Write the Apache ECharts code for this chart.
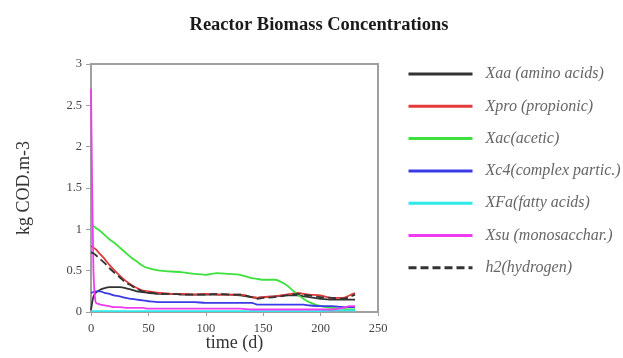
<!DOCTYPE html>
<html><head><meta charset="utf-8">
<script src="https://cdn.jsdelivr.net/npm/echarts@6/dist/echarts.min.js"></script>
<style>html,body{margin:0;padding:0;background:#fff}#c{width:623px;height:358px}</style>
</head><body><div id="c"></div>
<script>
const times = [0, 2, 4, 8, 12, 16, 20, 25, 30, 35, 40, 45, 50, 60, 70, 80, 90, 100, 110, 120, 130, 140, 145, 150, 160, 170, 175, 180, 185, 190, 200, 210, 220, 225, 230];
const xaa = [0.02,0.18,0.23,0.27,0.29,0.30,0.30,0.30,0.29,0.27,0.25,0.24,0.23,0.22,0.22,0.21,0.21,0.21,0.21,0.21,0.20,0.18,0.17,0.18,0.19,0.20,0.20,0.20,0.19,0.18,0.16,0.15,0.15,0.15,0.15];
const xpro = [0.80,0.78,0.76,0.70,0.64,0.57,0.51,0.44,0.38,0.33,0.29,0.26,0.25,0.23,0.22,0.22,0.21,0.22,0.21,0.21,0.21,0.18,0.17,0.18,0.19,0.21,0.22,0.23,0.22,0.21,0.20,0.17,0.17,0.20,0.23];
const xac = [1.05,1.04,1.02,0.98,0.93,0.88,0.84,0.78,0.72,0.66,0.61,0.56,0.53,0.50,0.49,0.48,0.46,0.45,0.47,0.46,0.45,0.41,0.40,0.39,0.39,0.33,0.27,0.21,0.16,0.12,0.07,0.05,0.04,0.03,0.03];
const xc4 = [0.23,0.24,0.25,0.25,0.23,0.22,0.20,0.19,0.17,0.16,0.15,0.14,0.13,0.12,0.12,0.12,0.12,0.11,0.11,0.11,0.11,0.11,0.09,0.09,0.09,0.09,0.09,0.09,0.09,0.08,0.07,0.07,0.06,0.06,0.06];
const xfa = [0.01,0.01,0.01,0.01,0.01,0.01,0.01,0.01,0.01,0.01,0.01,0.01,0.01,0.01,0.01,0.01,0.01,0.01,0.01,0.01,0.01,0.01,0.01,0.01,0.01,0.01,0.01,0.01,0.01,0.01,0.01,0.02,0.02,0.02,0.02];
const xsu = [2.70,0.60,0.12,0.09,0.08,0.07,0.06,0.06,0.05,0.05,0.05,0.05,0.04,0.04,0.04,0.04,0.04,0.04,0.04,0.04,0.04,0.03,0.03,0.03,0.03,0.03,0.03,0.03,0.03,0.03,0.03,0.03,0.05,0.07,0.07];
const h2 = [0.72,0.71,0.69,0.64,0.59,0.53,0.48,0.42,0.36,0.32,0.28,0.25,0.24,0.22,0.22,0.21,0.21,0.21,0.22,0.21,0.21,0.18,0.16,0.17,0.18,0.20,0.21,0.22,0.21,0.20,0.18,0.17,0.16,0.18,0.21];
const xTicks = [0, 50, 100, 150, 200, 250];
const yTicks = [0, 0.5, 1, 1.5, 2, 2.5, 3];
const names = ['Xaa (amino acids)','Xpro (propionic)','Xac(acetic)','Xc4(complex partic.)','XFa(fatty acids)','Xsu (monosacchar.)','h2(hydrogen)'];

const defs = [
  {name: names[0], d: xaa, color: '#333333', type: 'solid'},
  {name: names[1], d: xpro, color: '#e23a3a', type: 'solid'},
  {name: names[2], d: xac, color: '#3ee03e', type: 'solid'},
  {name: names[3], d: xc4, color: '#3a3ae6', type: 'solid'},
  {name: names[4], d: xfa, color: '#30e8e8', type: 'solid'},
  {name: names[5], d: xsu, color: '#f03cf0', type: 'solid'},
  {name: names[6], d: h2, color: '#333333', type: [8, 4]}
];
const series = defs.map(s => ({
  name: s.name, type: 'line', symbol: 'none', smooth: 0.3,
  data: times.map((t, i) => [t, s.d[i]]),
  lineStyle: {color: s.color, width: 1.8, type: s.type},
  itemStyle: {color: s.color}
}));
const serif = '"Liberation Serif", "DejaVu Serif", serif';
const chart = echarts.init(document.getElementById('c'), null, {renderer: 'canvas'});
chart.setOption({
  animation: false,
  title: {text: 'Reactor Biomass Concentrations', left: 314, textAlign: 'center', top: 11,
    textStyle: {fontFamily: serif, fontSize: 18.5, fontWeight: 'bold', color: '#1a1a1a'}},
  grid: {left: 91, right: 245, top: 64, bottom: 46, outerBoundsMode: 'none', containLabel: false,
    show: true, borderColor: '#a0a0a0', borderWidth: 2, backgroundColor: 'transparent'},
  legend: {orient: 'vertical', left: 402, top: 61, itemWidth: 64, itemHeight: 16, itemGap: 16.3,
    itemStyle: {opacity: 0},
    lineStyle: {width: 3},
    textStyle: {fontFamily: serif, fontStyle: 'italic', fontSize: 16, color: '#666', padding: [0, 0, 0, 8]},
    data: names},
  xAxis: {type: 'value', min: 0, max: 250, interval: 50,
    name: 'time (d)', nameLocation: 'middle', nameGap: 22, nameMoveOverlap: false,
    nameTextStyle: {fontFamily: serif, fontSize: 18, color: '#333'},
    axisLine: {show: true, lineStyle: {color: '#a0a0a0', width: 2}},
    axisTick: {show: true, length: 4, lineStyle: {color: '#a0a0a0'}},
    splitLine: {show: false},
    axisLabel: {fontFamily: serif, fontSize: 12.5, color: '#444', margin: 10}},
  yAxis: {type: 'value', min: 0, max: 3, interval: 0.5,
    name: 'kg COD.m-3', nameLocation: 'middle', nameGap: 58, nameMoveOverlap: false,
    nameTextStyle: {fontFamily: serif, fontSize: 18, color: '#333'},
    axisLine: {show: true, lineStyle: {color: '#a0a0a0', width: 2}},
    axisTick: {show: true, length: 5, lineStyle: {color: '#a0a0a0'}},
    splitLine: {show: false},
    axisLabel: {fontFamily: serif, fontSize: 12.5, color: '#444', margin: 9}},
  series: series
});
</script></body></html>
